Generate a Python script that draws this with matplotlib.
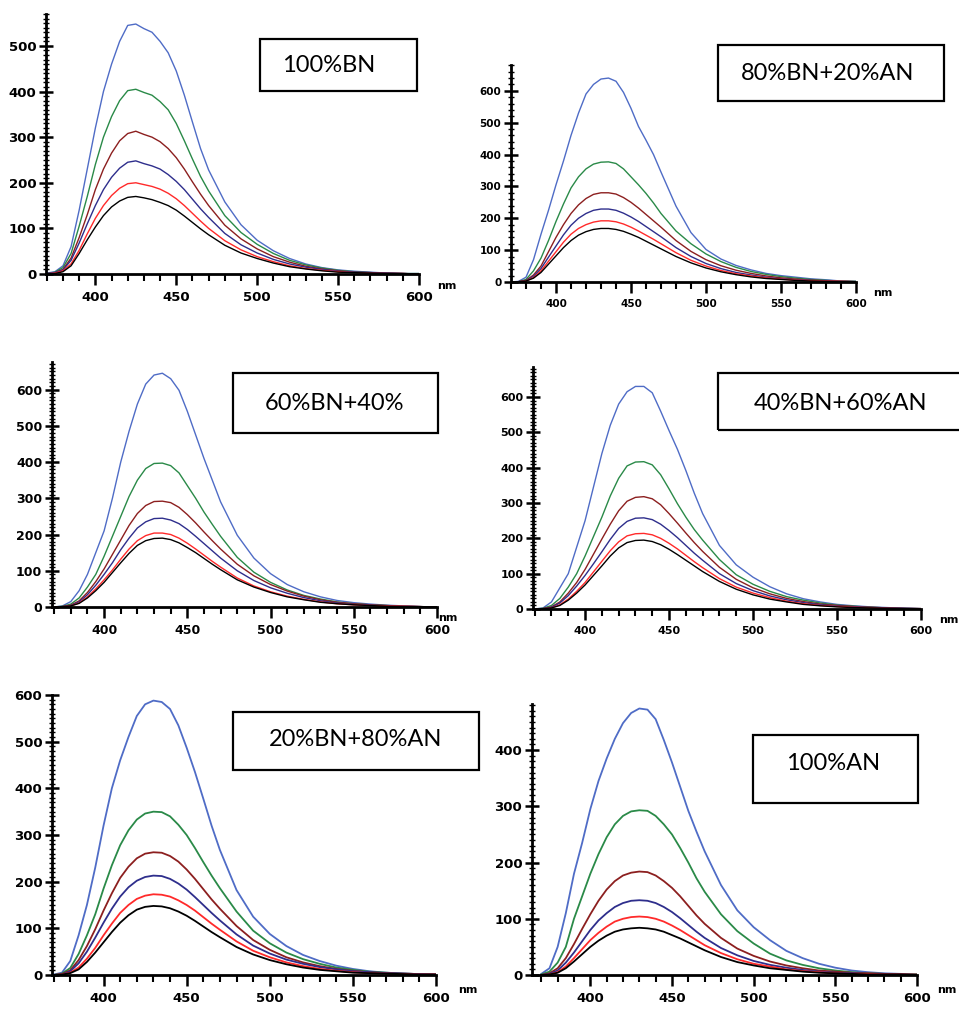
import matplotlib
matplotlib.use("Agg")
import matplotlib.pyplot as plt
from matplotlib.ticker import MultipleLocator
from matplotlib.patches import Rectangle

W, H = 959, 1013

# ---------------- data (wavelength in nm, intensity in a.u.) ----------------
wavelength = [370, 375, 380, 385, 390, 395, 400, 405, 410, 415, 420, 425, 430, 435,
              440, 445, 450, 455, 460, 465, 470, 480, 490, 500, 510, 520, 530, 540,
              550, 560, 570, 580, 590, 600]

panel_titles = ["100%BN", "80%BN+20%AN", "60%BN+40%", "40%BN+60%AN", "20%BN+80%AN", "100%AN"]

# Panel 1 : 100%BN
p1_blue = [2, 5, 18, 60, 140, 230, 320, 400, 460, 510, 545, 548, 538, 530, 510, 485, 445, 392, 333, 275, 228, 158, 108, 74, 51, 34, 22, 14, 9, 6, 4, 2, 1, 1]
p1_green = [1, 4, 14, 45, 105, 170, 240, 300, 345, 380, 402, 405, 398, 392, 378, 360, 330, 292, 252, 214, 182, 128, 91, 65, 45, 30, 20, 13, 8, 5, 3, 2, 1, 1]
p1_darkred = [1, 3, 10, 35, 80, 130, 185, 230, 265, 292, 308, 313, 306, 300, 290, 275, 255, 230, 202, 175, 150, 107, 77, 55, 38, 26, 17, 11, 7, 4, 3, 2, 1, 0]
p1_navy = [1, 3, 9, 30, 68, 110, 150, 185, 212, 232, 245, 248, 242, 237, 230, 218, 203, 185, 164, 143, 124, 89, 64, 46, 32, 22, 15, 10, 6, 4, 3, 2, 1, 0]
p1_red = [0, 2, 7, 22, 52, 88, 122, 150, 172, 188, 198, 200, 196, 192, 186, 177, 165, 150, 133, 116, 100, 73, 53, 38, 27, 18, 12, 8, 5, 3, 2, 1, 1, 0]
p1_black = [0, 1, 5, 18, 45, 75, 103, 128, 147, 160, 168, 170, 167, 163, 157, 150, 140, 127, 113, 99, 86, 63, 46, 34, 24, 16, 11, 7, 4, 3, 2, 1, 1, 0]

# Panel 2 : 80%BN+20%AN
p2_blue = [0, 2, 15, 70, 150, 225, 305, 380, 460, 530, 590, 620, 637, 640, 630, 595, 545, 488, 445, 400, 345, 238, 155, 102, 72, 52, 38, 27, 20, 15, 10, 7, 3, 2]
p2_green = [0, 1, 8, 35, 75, 130, 190, 245, 295, 330, 355, 370, 376, 377, 372, 355, 330, 305, 278, 248, 215, 160, 120, 88, 64, 46, 33, 24, 17, 12, 8, 5, 3, 2]
p2_darkred = [0, 1, 5, 22, 50, 95, 140, 180, 215, 242, 262, 275, 280, 280, 276, 265, 250, 232, 212, 192, 172, 130, 96, 70, 51, 37, 27, 19, 13, 9, 6, 4, 2, 1]
p2_navy = [0, 1, 4, 18, 42, 78, 113, 148, 178, 200, 215, 225, 229, 229, 225, 216, 204, 190, 174, 158, 142, 108, 80, 58, 42, 30, 22, 15, 10, 7, 5, 3, 2, 1]
p2_red = [0, 1, 3, 14, 35, 65, 95, 125, 150, 168, 180, 188, 192, 192, 189, 182, 172, 160, 147, 134, 120, 92, 68, 50, 36, 26, 19, 13, 9, 6, 4, 3, 2, 1]
p2_black = [0, 1, 3, 12, 30, 56, 82, 108, 130, 147, 158, 165, 168, 168, 165, 159, 150, 140, 128, 116, 104, 80, 60, 44, 32, 23, 16, 11, 8, 5, 3, 2, 1, 1]

# Panel 3 : 60%BN+40%
p3_blue = [0, 3, 15, 45, 90, 150, 210, 300, 400, 485, 560, 615, 640, 645, 630, 598, 540, 475, 410, 350, 290, 198, 135, 92, 62, 42, 28, 18, 12, 8, 5, 3, 1, 0]
p3_green = [0, 2, 8, 25, 55, 90, 140, 195, 250, 305, 350, 382, 396, 397, 390, 370, 335, 300, 262, 228, 195, 137, 96, 68, 47, 32, 22, 14, 9, 6, 4, 2, 1, 0]
p3_darkred = [0, 1, 5, 17, 40, 70, 105, 145, 185, 225, 258, 280, 291, 292, 288, 275, 255, 232, 207, 183, 160, 118, 86, 62, 44, 30, 20, 13, 9, 6, 4, 2, 1, 0]
p3_navy = [0, 1, 4, 14, 34, 60, 90, 122, 158, 190, 218, 235, 244, 245, 240, 230, 214, 195, 175, 155, 135, 100, 73, 53, 38, 26, 17, 11, 7, 5, 3, 2, 1, 0]
p3_red = [0, 1, 3, 11, 28, 50, 75, 102, 132, 160, 183, 197, 204, 204, 200, 190, 176, 160, 143, 126, 110, 80, 58, 42, 30, 21, 14, 9, 6, 4, 3, 2, 1, 0]
p3_black = [0, 1, 3, 10, 25, 45, 68, 95, 122, 148, 170, 183, 189, 190, 186, 177, 164, 150, 134, 118, 103, 75, 55, 40, 28, 20, 13, 9, 6, 4, 2, 1, 1, 0]

# Panel 4 : 40%BN+60%AN
p4_blue = [0, 3, 20, 60, 100, 175, 250, 345, 440, 520, 580, 615, 630, 630, 612, 560, 505, 452, 392, 328, 270, 180, 125, 90, 63, 43, 29, 20, 13, 9, 6, 4, 2, 1]
p4_green = [0, 2, 10, 30, 62, 100, 150, 205, 260, 320, 370, 405, 416, 417, 408, 380, 340, 298, 260, 225, 195, 140, 97, 70, 50, 35, 25, 17, 11, 8, 5, 3, 2, 1]
p4_darkred = [0, 1, 6, 20, 45, 75, 112, 155, 198, 240, 278, 305, 316, 318, 312, 295, 270, 243, 215, 188, 163, 118, 84, 60, 43, 30, 21, 14, 10, 7, 5, 3, 2, 1]
p4_navy = [0, 1, 5, 17, 38, 65, 95, 128, 162, 197, 228, 248, 257, 258, 253, 240, 222, 202, 180, 158, 138, 100, 72, 52, 37, 26, 18, 12, 8, 6, 4, 3, 2, 1]
p4_red = [0, 1, 3, 12, 28, 50, 75, 105, 135, 165, 190, 207, 213, 214, 210, 200, 186, 170, 152, 134, 117, 86, 62, 45, 32, 22, 15, 10, 7, 5, 3, 2, 1, 1]
p4_black = [0, 1, 3, 10, 25, 45, 68, 95, 122, 150, 173, 188, 194, 195, 191, 182, 169, 154, 138, 122, 106, 78, 56, 40, 28, 20, 13, 9, 6, 4, 3, 2, 1, 0]

# Panel 5 : 20%BN+80%AN
p5_blue = [1, 5, 30, 85, 150, 230, 320, 400, 460, 510, 555, 580, 588, 585, 570, 535, 487, 435, 378, 320, 268, 182, 125, 88, 62, 43, 30, 20, 13, 8, 5, 3, 2, 1]
p5_green = [0, 3, 15, 45, 85, 130, 185, 235, 278, 310, 333, 346, 350, 349, 340, 322, 300, 272, 242, 213, 186, 136, 95, 68, 48, 34, 24, 16, 11, 7, 5, 3, 2, 1]
p5_darkred = [0, 2, 10, 32, 62, 98, 138, 175, 208, 232, 250, 260, 263, 262, 255, 243, 226, 206, 184, 162, 142, 105, 75, 54, 38, 27, 19, 13, 9, 6, 4, 3, 2, 1]
p5_navy = [0, 1, 8, 25, 50, 80, 112, 142, 168, 188, 202, 210, 213, 212, 206, 196, 183, 167, 150, 133, 117, 87, 63, 46, 33, 24, 17, 12, 8, 6, 4, 3, 2, 1]
p5_red = [0, 1, 5, 16, 35, 58, 85, 110, 133, 150, 163, 170, 173, 172, 168, 160, 150, 138, 124, 110, 97, 72, 52, 38, 27, 19, 13, 9, 6, 4, 3, 2, 1, 1]
p5_black = [0, 1, 4, 12, 28, 48, 70, 92, 112, 128, 140, 146, 148, 147, 143, 136, 127, 116, 104, 92, 81, 60, 44, 32, 23, 16, 11, 8, 5, 4, 3, 2, 1, 1]

# Panel 6 : 100%AN
p6_blue = [2, 12, 50, 110, 180, 235, 295, 345, 385, 420, 448, 466, 474, 472, 455, 418, 378, 335, 292, 255, 220, 160, 115, 85, 62, 43, 30, 20, 13, 8, 5, 3, 2, 1]
p6_green = [1, 6, 22, 50, 100, 140, 180, 215, 245, 268, 283, 291, 293, 292, 283, 268, 250, 226, 200, 172, 148, 108, 78, 56, 38, 26, 18, 12, 8, 5, 3, 2, 1, 1]
p6_darkred = [0, 3, 12, 30, 55, 82, 108, 132, 152, 167, 177, 182, 184, 183, 177, 167, 155, 140, 123, 106, 91, 66, 47, 34, 24, 17, 12, 8, 6, 4, 3, 2, 1, 1]
p6_navy = [0, 2, 8, 22, 40, 60, 80, 97, 110, 121, 128, 132, 133, 132, 128, 121, 112, 101, 89, 77, 66, 48, 35, 25, 18, 13, 9, 6, 4, 3, 2, 1, 1, 0]
p6_red = [0, 1, 5, 15, 30, 46, 62, 75, 86, 95, 100, 103, 104, 103, 100, 95, 88, 80, 71, 62, 53, 39, 28, 20, 15, 10, 7, 5, 3, 2, 2, 1, 1, 0]
p6_black = [0, 1, 4, 12, 24, 37, 50, 61, 70, 77, 81, 83, 84, 83, 81, 77, 71, 65, 58, 51, 44, 32, 23, 17, 12, 9, 6, 4, 3, 2, 1, 1, 1, 0]

panel_series = [
    [p1_blue, p1_green, p1_darkred, p1_navy, p1_red, p1_black],
    [p2_blue, p2_green, p2_darkred, p2_navy, p2_red, p2_black],
    [p3_blue, p3_green, p3_darkred, p3_navy, p3_red, p3_black],
    [p4_blue, p4_green, p4_darkred, p4_navy, p4_red, p4_black],
    [p5_blue, p5_green, p5_darkred, p5_navy, p5_red, p5_black],
    [p6_blue, p6_green, p6_darkred, p6_navy, p6_red, p6_black],
]

# ---------------- styles / layout ----------------
series_colors = ["#4f6cc6", "#2a8a48", "#8c1f1f", "#2e2e8c", "#ff2a2a", "#000000"]

layout = [
    dict(l=46, r=419, t=14, b=274, xlim=(369.5, 600), ylim=(0, 570), ymaxtick=500, yminor=10, fs=9.5, lw=1.0),
    dict(l=511, r=856, t=65, b=282, xlim=(370, 600), ylim=(0, 681), ymaxtick=600, yminor=20, fs=7.5, lw=1.0),
    dict(l=52, r=437, t=362, b=607, xlim=(368.7, 600), ylim=(0, 676), ymaxtick=600, yminor=10, fs=9, lw=1.0),
    dict(l=533, r=921, t=367, b=609, xlim=(369, 600), ylim=(0, 685), ymaxtick=600, yminor=10, fs=8, lw=1.0),
    dict(l=52, r=436, t=695, b=975, xlim=(369, 600), ylim=(0, 600), ymaxtick=600, yminor=10, fs=9.5, lw=1.3),
    dict(l=532, r=917, t=704, b=975, xlim=(364.3, 600), ylim=(0, 482), ymaxtick=400, yminor=10, fs=9.5, lw=1.3),
]

boxes = [
    dict(x0=260, y0=39, x1=417, y1=91, cx=329, cy=66),
    dict(x0=718, y0=45, x1=944, y1=101, cx=828, cy=73),
    dict(x0=233, y0=373, x1=438, y1=433, cx=334, cy=403),
    dict(x0=718, y0=373, x1=968, y1=430, cx=840, cy=403),
    dict(x0=233, y0=712, x1=479, y1=770, cx=356, cy=740),
    dict(x0=753, y0=735, x1=918, y1=803, cx=833, cy=764),
]

nm_pos = [(447, 286), (883, 293), (448, 618), (949, 620), (468, 990), (947, 990)]

fig = plt.figure(figsize=(W / 100, H / 100), dpi=100)
fig.patch.set_facecolor("white")

for k in range(6):
    L = layout[k]
    ax = fig.add_axes([L["l"] / W, 1 - L["b"] / H, (L["r"] - L["l"]) / W, (L["b"] - L["t"]) / H])
    for s, c in zip(panel_series[k], series_colors):
        ax.plot(wavelength, s, color=c, lw=L["lw"])
    ax.set_xlim(*L["xlim"])
    ax.set_ylim(*L["ylim"])
    ax.spines["top"].set_visible(False)
    ax.spines["right"].set_visible(False)
    for sp in ("left", "bottom"):
        ax.spines[sp].set_linewidth(2.0)
    ax.set_xticks([400, 450, 500, 550, 600])
    ax.xaxis.set_minor_locator(MultipleLocator(10))
    ax.set_yticks(list(range(0, L["ymaxtick"] + 1, 100)))
    ax.yaxis.set_minor_locator(MultipleLocator(L["yminor"]))
    ax.tick_params(axis="x", which="major", direction="out", length=8, width=1.8, pad=4)
    ax.tick_params(axis="x", which="minor", direction="out", length=5, width=1.5)
    ax.tick_params(axis="y", which="major", direction="inout", length=10, width=1.8, pad=2)
    ax.tick_params(axis="y", which="minor", direction="inout", length=5, width=1.0)
    for lab in ax.get_xticklabels() + ax.get_yticklabels():
        lab.set_fontweight("bold")
        lab.set_fontsize(L["fs"])
    ax.patch.set_alpha(0)

    B = boxes[k]
    fig.add_artist(Rectangle((B["x0"] / W, 1 - B["y1"] / H), (B["x1"] - B["x0"]) / W, (B["y1"] - B["y0"]) / H,
                             transform=fig.transFigure, fill=False, lw=1.6, edgecolor="black"))
    fig.text(B["cx"] / W, 1 - B["cy"] / H, panel_titles[k], ha="center", va="center",
             fontsize=17, family=["Lato", "DejaVu Sans"])
    fig.text(nm_pos[k][0] / W, 1 - nm_pos[k][1] / H, "nm", ha="center", va="center",
             fontsize=8, fontweight="bold")

fig.savefig("out.png", dpi=100, facecolor="white")
